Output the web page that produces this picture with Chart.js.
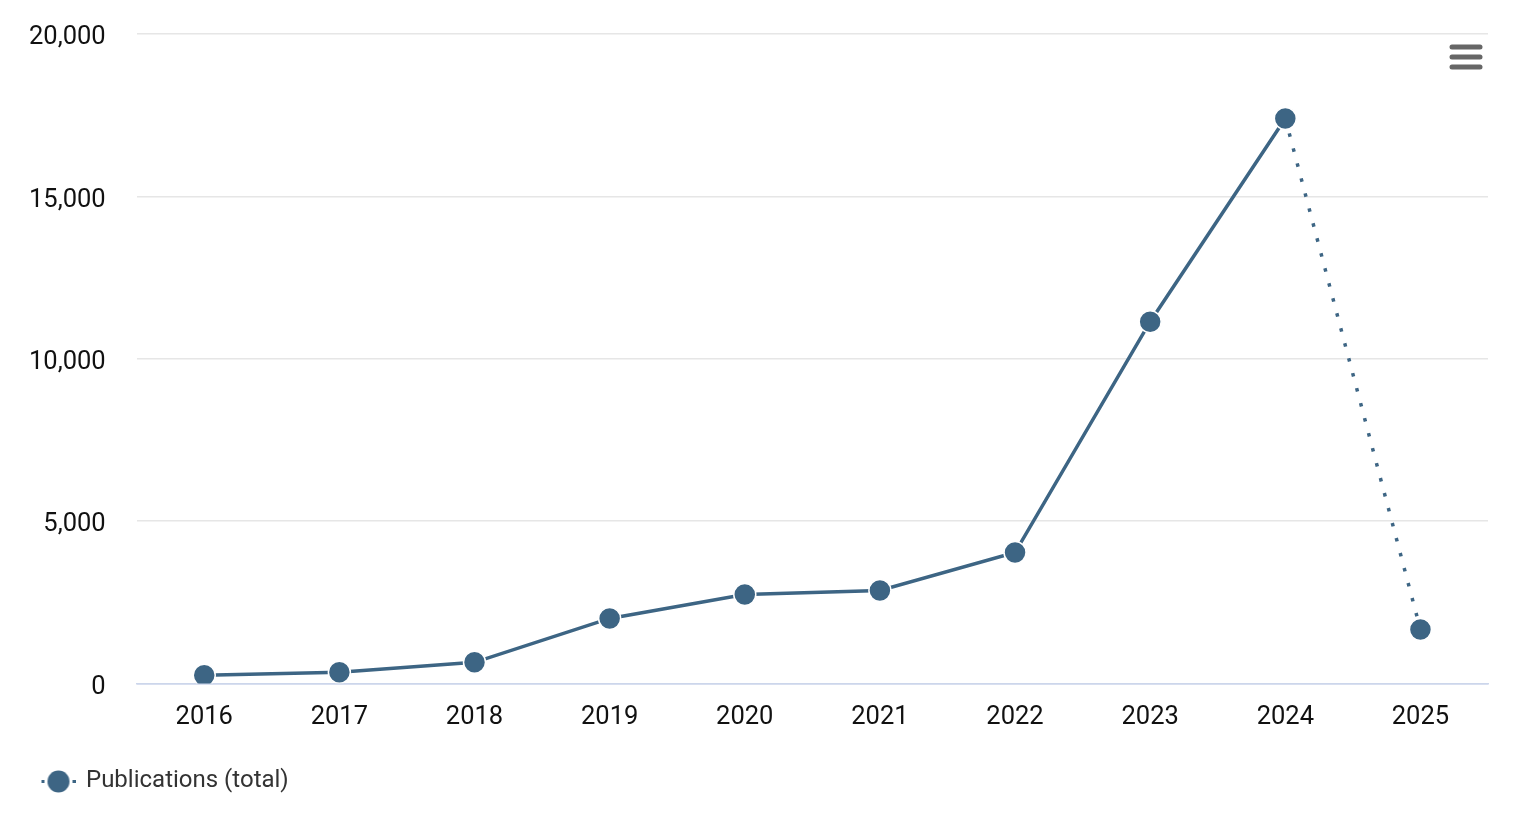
<!DOCTYPE html>
<html lang="en">
<head>
  <meta charset="UTF-8" />
  <title>Publications (total)</title>
  <script src="https://cdn.jsdelivr.net/npm/chart.js"></script>
  <style>
    html, body { margin: 0; padding: 0; background: #fff; }
    #wrap { width: 1532px; height: 820px; }
  </style>
</head>
<body>
  <div id="wrap"><canvas id="grafico"></canvas></div>

  <script>
    const anos = ['2016', '2017', '2018', '2019', '2020', '2021', '2022', '2023', '2024', '2025'];
    const publicacoes = [250, 340, 650, 2000, 2740, 2860, 4030, 11140, 17400, 1660];
    const serieNome = 'Publications (total)';
    const corSerie = '#3d6584';

    // marcador da legenda: bolinha com tracejado atravessando (com recuo à esquerda)
    function marcadorLegenda() {
      const c = document.createElement('canvas');
      c.width = 62; c.height = 24;
      const g = c.getContext('2d');
      g.fillStyle = corSerie;
      g.fillRect(28, 11, 3, 3);
      g.fillRect(59, 11, 3, 3);
      g.beginPath();
      g.arc(45, 12.5, 11, 0, Math.PI * 2);
      g.fill();
      return c;
    }

    // ícone de menu no canto superior direito
    const menuIcon = {
      id: 'menuIcon',
      afterDraw(chart) {
        const ctx = chart.ctx;
        ctx.save();
        ctx.strokeStyle = '#666';
        ctx.lineWidth = 5;
        ctx.lineCap = 'round';
        [47, 57, 67].forEach(y => {
          ctx.beginPath();
          ctx.moveTo(1452, y);
          ctx.lineTo(1480, y);
          ctx.stroke();
        });
        ctx.restore();
      }
    };

    const ctx = document.getElementById('grafico').getContext('2d');
    new Chart(ctx, {
      type: 'line',
      data: {
        labels: anos,
        datasets: [{
          label: serieNome,
          data: publicacoes,
          borderColor: corSerie,
          backgroundColor: corSerie,
          borderWidth: 3.5,
          pointRadius: 11,
          pointHoverRadius: 11,
          pointBorderColor: '#fff',
          pointBorderWidth: 1.5,
          pointBackgroundColor: corSerie,
          tension: 0,
          segment: {
            borderDash: c => c.p1DataIndex === anos.length - 1 ? [3.5, 12] : undefined
          }
        }]
      },
      options: {
        responsive: true,
        maintainAspectRatio: false,
        animation: false,
        layout: { padding: { top: 34, right: 44, left: -2, bottom: 17 } },
        plugins: {
          tooltip: { enabled: false },
          legend: {
            position: 'bottom',
            align: 'start',
            labels: {
              color: '#333',
              font: { family: 'Roboto', size: 24 },
              usePointStyle: true,
              pointStyleWidth: 59,
              padding: 17,
              generateLabels: chart => [{
                text: serieNome,
                pointStyle: marcadorLegenda(),
                fontColor: '#333',
                datasetIndex: 0,
                hidden: false,
                lineWidth: 0
              }]
            }
          }
        },
        scales: {
          y: {
            min: 0,
            max: 20000,
            afterFit: s => { s.paddingTop = 0; s.paddingBottom = 0; },
            ticks: {
              stepSize: 5000,
              color: '#111',
              padding: 31,
              labelOffset: 4,
              font: { family: 'Roboto', size: 25.5 },
              callback: v => v.toLocaleString('en-US')
            },
            grid: {
              color: c => c.tick.value === 0 ? '#ccd6eb' : '#e6e6e6',
              lineWidth: 1.5,
              drawTicks: false
            },
            border: { display: false }
          },
          x: {
            offset: true,
            ticks: {
              color: '#111',
              padding: 19,
              font: { family: 'Roboto', size: 25.5 }
            },
            grid: { display: false, drawTicks: false },
            border: { display: true, color: '#ccd6eb', width: 1.5 }
          }
        }
      },
      plugins: [menuIcon]
    });
  </script>
</body>
</html>
